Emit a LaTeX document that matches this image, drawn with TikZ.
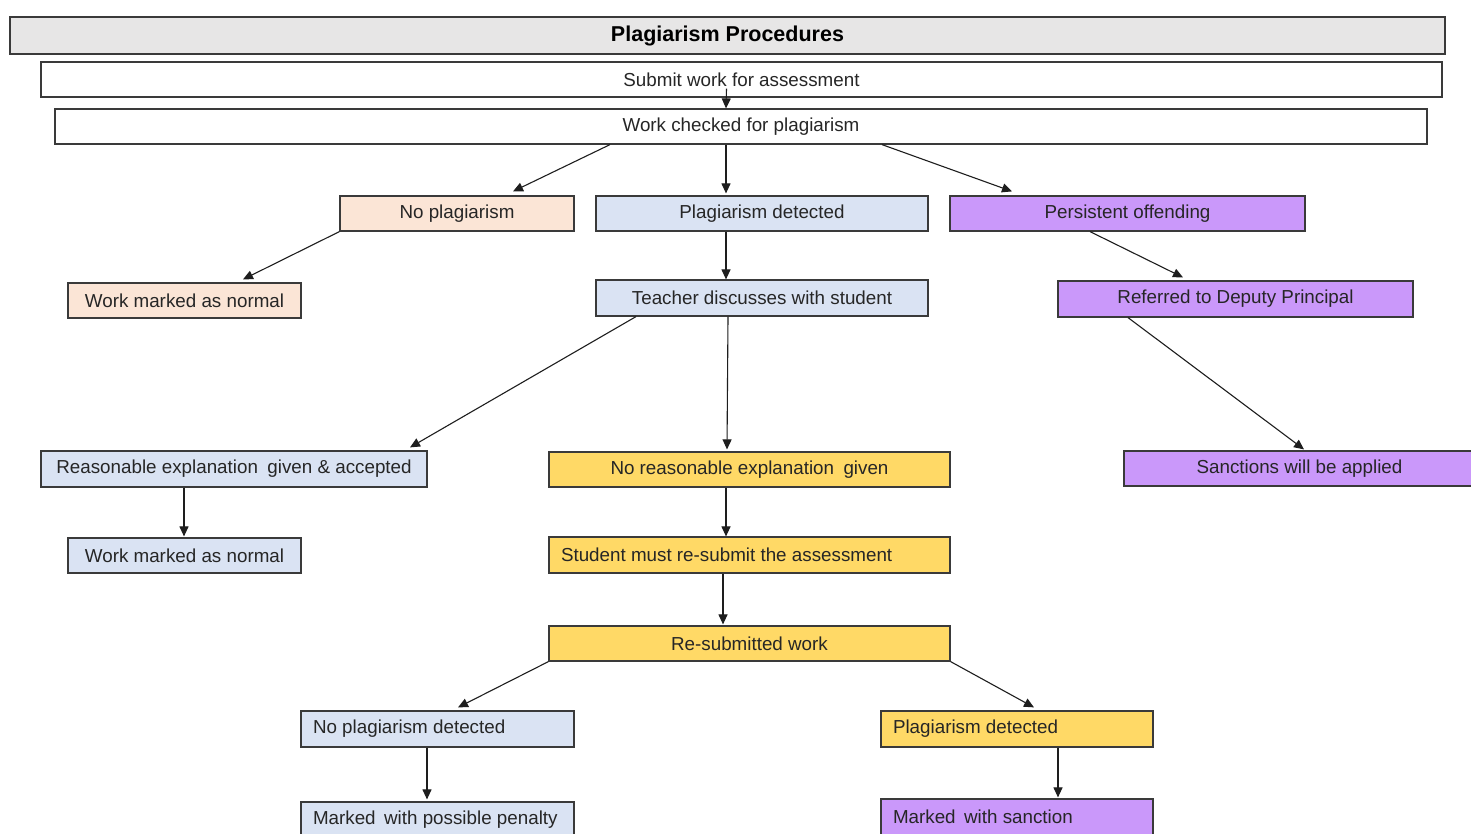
\documentclass[tikz,border=0pt]{standalone}
\usepackage{fontspec}
\setmainfont{Liberation Sans}
\usetikzlibrary{arrows.meta,calc}
\definecolor{titlegray}{HTML}{E7E6E6}
\definecolor{peach}{HTML}{FBE5D6}
\definecolor{lblue}{HTML}{DAE3F3}
\definecolor{lpurple}{HTML}{CA98FA}
\definecolor{gold}{HTML}{FFD966}
\definecolor{boxline}{HTML}{3A3A3A}
\definecolor{textdark}{HTML}{262626}
\definecolor{arrowcol}{HTML}{1E1E1E}
\begin{document}
\begin{tikzpicture}[x=1pt,y=-1pt,
  box/.style={draw=boxline, line width=1.2pt, inner sep=0pt, text=textdark,
    font=\fontsize{18.8}{22}\selectfont, minimum height=35pt},
  lbox/.style={box, inner xsep=12pt},
  arr/.style={-{Triangle[length=10pt,width=9pt]}, line width=1.1pt, draw=arrowcol},
]
\useasboundingbox (0,0) rectangle (1471,833);
\fill[white] (0,0) rectangle (1471,833);
\begin{scope}
\clip (0,0) rectangle (1471,833);
% top rows
\node[box, fill=titlegray, minimum width=1435pt, minimum height=37pt,
  font=\fontsize{21.5}{24}\selectfont\bfseries, text=black] (title) at (727.5,35.5) {Plagiarism Procedures};
\node[box, fill=white, minimum width=1401pt] (sub) at (741.5,79.5) {Submit work for assessment};
\node[box, fill=white, minimum width=1372pt] (chk) at (741,126.5) {Work checked for plagiarism};
% level 2
\node[box, fill=peach, minimum width=234pt] (np) at (457,213.5) {No plagiarism};
\node[box, fill=lblue, minimum width=332pt] (pd) at (762,213.5) {Plagiarism detected};
\node[box, fill=lpurple, minimum width=355pt] (po) at (1127.5,213.5) {Persistent offending};
% level 3
\node[box, fill=peach, minimum width=233pt] (wm1) at (184.5,300.5) {Work marked as normal};
\node[box, fill=lblue, minimum width=332pt, minimum height=36pt] (td) at (762,298) {Teacher discusses with student};
\node[box, fill=lpurple, minimum width=355pt, minimum height=36pt] (rd) at (1235.5,299) {Referred to Deputy Principal};
% level 4
\node[box, fill=lblue, minimum width=386pt, minimum height=36pt] (re) at (234,469) {Reasonable explanation\hspace{0.5em}given \& accepted};
\node[box, fill=gold, minimum width=401pt] (nr) at (749.5,469.5) {No reasonable explanation\hspace{0.5em}given};
\node[box, fill=lpurple, minimum width=351pt] (sa) at (1299.5,468.5) {Sanctions will be applied};
% level 5
\node[box, fill=lblue, minimum width=233pt] (wm2) at (184.5,555.5) {Work marked as normal\hspace{8pt}};
\node[lbox, fill=gold, minimum width=401pt, minimum height=36pt] (rs) at (749.5,555) {\makebox[377pt][l]{Student must re-submit the assessment}};
\node[box, fill=gold, minimum width=401pt] (rw) at (749.5,643.5) {Re-submitted work};
% level 6
\node[lbox, fill=lblue, minimum width=273pt, minimum height=36pt] (npd) at (437.5,729) {\makebox[249pt][l]{No plagiarism detected}};
\node[lbox, fill=gold, minimum width=272pt, minimum height=36pt] (pd2) at (1017,729) {\makebox[248pt][l]{Plagiarism detected}};
% level 7
\node[lbox, fill=lblue, minimum width=273pt, minimum height=36pt] (mp) at (437.5,820) {\makebox[249pt][l]{Marked\hspace{0.45em}with possible penalty}};
\node[lbox, fill=lpurple, minimum width=272pt, minimum height=36pt] (ms) at (1017,817) {\makebox[248pt][l]{Marked\hspace{0.45em}with sanction}};
\end{scope}
% connectors
\draw[arr] ([xshift=-15pt,yshift=9pt]sub.south) -- ([xshift=-15pt]chk.north);
\draw[arr] ([xshift=-131pt]chk.south) -- ([xshift=56pt,yshift=4pt]np.north);
\draw[arr] ([xshift=-15pt]chk.south) -- ([xshift=-36pt,yshift=2pt]pd.north);
\draw[arr] ([xshift=141pt]chk.south) -- ([xshift=-115.5pt,yshift=4pt]po.north);
\draw[arr] (np.south west) -- ([xshift=58.5pt,yshift=3pt]wm1.north);
\draw[arr] ([xshift=-36pt]pd.south) -- ([xshift=-36pt]td.north);
\draw[arr] ([xshift=-37.5pt]po.south) -- ([xshift=-52.5pt,yshift=3pt]rd.north);
\draw[arr] ([xshift=-126pt]td.south) -- ([xshift=176pt,yshift=3pt]re.north);
\draw[arr] ([xshift=-34pt]td.south) -- ([xshift=-22.5pt,yshift=2pt]nr.north);
\draw[arr] ([xshift=-107.5pt]rd.south) -- ([xshift=4.5pt,yshift=1pt]sa.north);
\draw[arr] ([xshift=-50pt]re.south) -- ([xshift=-0.5pt,yshift=1pt]wm2.north);
\draw[arr] ([xshift=-23.5pt]nr.south) -- ([xshift=-23.5pt]rs.north);
\draw[arr] ([xshift=-26.5pt]rs.south) -- ([xshift=-26.5pt,yshift=1pt]rw.north);
\draw[arr] (rw.south west) -- ([xshift=20.5pt,yshift=3pt]npd.north);
\draw[arr] (rw.south east) -- ([xshift=17pt,yshift=3pt]pd2.north);
\draw[arr] ([xshift=-10.5pt]npd.south) -- ([xshift=-10.5pt,yshift=2pt]mp.north);
\draw[arr] ([xshift=41pt]pd2.south) -- ([xshift=41pt,yshift=1pt]ms.north);
\end{tikzpicture}
\end{document}
